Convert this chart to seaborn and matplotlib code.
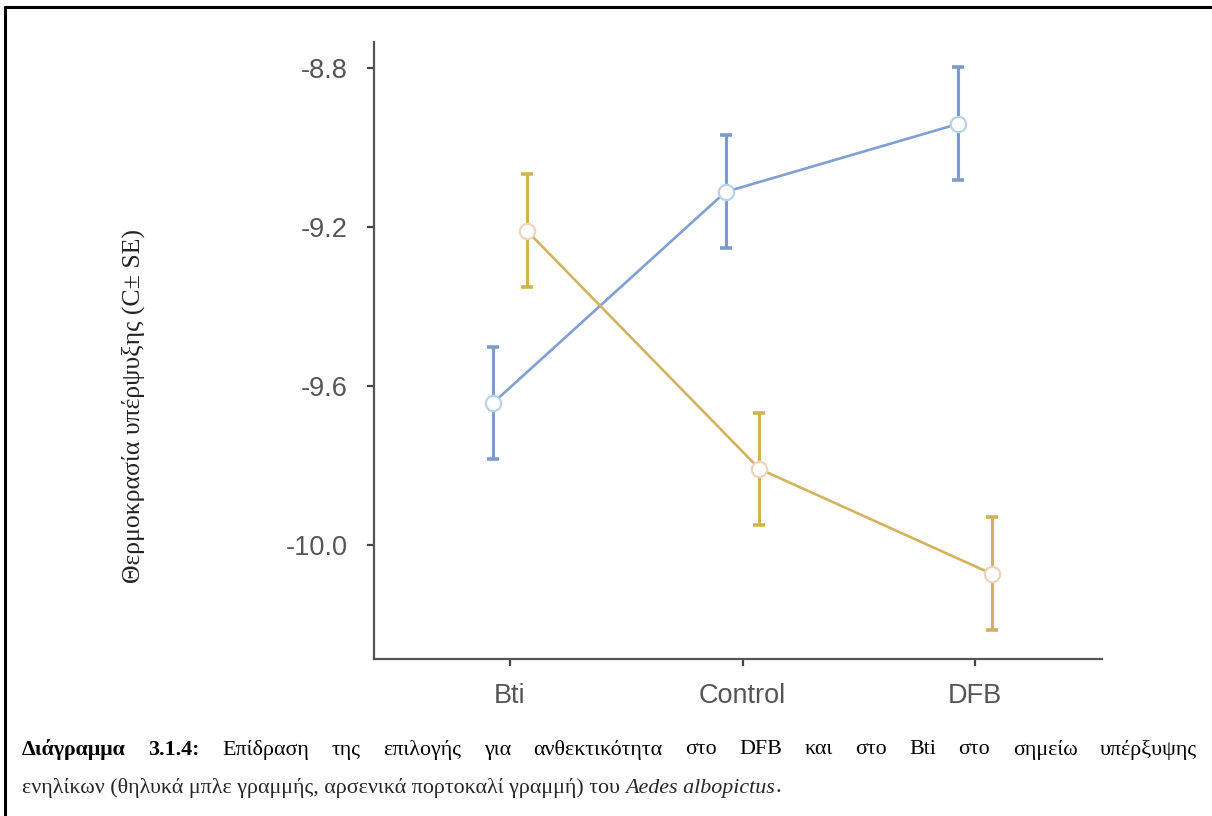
import matplotlib
matplotlib.use("Agg")
import matplotlib.pyplot as plt
from matplotlib.lines import Line2D
import seaborn as sns
import pandas as pd
import numpy as np

# values
groups = ["Bti", "Control", "DFB"]
female_mean = [-9.643, -9.112, -8.941]
female_se = [0.142, 0.142, 0.142]
male_mean = [-9.210, -9.809, -10.073]
male_se = [0.142, 0.142, 0.142]
yticks = [-8.8, -9.2, -9.6, -10.0]

ylabel = "Θερμοκρασία υπέρψυξης (C± SE)"
caption_bold = "Διάγραμμα 3.1.4:"
caption_line1 = "Επίδραση της επιλογής για ανθεκτικότητα στο DFB και στο Bti στο σημείω υπέρξυψης"
caption_line2 = "ενηλίκων (θηλυκά μπλε γραμμής, αρσενικά πορτοκαλί γραμμή) του "
caption_italic = "Aedes albopictus"

df = pd.DataFrame({
    "group": groups * 2,
    "sex": ["female"] * 3 + ["male"] * 3,
    "mean": female_mean + male_mean,
    "se": female_se + male_se,
})

line_colors = {"female": "#809fd2", "male": "#d5b25f"}
err_colors = {"female": "#7d9bcb", "male": "#d3b159"}
edge_colors = {"female": "#b9d2ec", "male": "#f0d3bd"}

sns.set_theme(style="ticks")
plt.rcParams["axes.unicode_minus"] = False
plt.rcParams["font.family"] = ["Liberation Sans", "DejaVu Sans"]

fig = plt.figure(figsize=(12.12, 8.16), dpi=100)
ax = fig.add_axes([0.3086, 0.1924, 0.6006, 0.7561])

sns.pointplot(
    data=df, x="group", y="mean", hue="sex", order=groups, hue_order=["female", "male"],
    palette=line_colors, dodge=0.146, errorbar=None, markers="o", linewidth=1.9,
    ax=ax, legend=False,
)

# restyle markers and add the SE bars at the dodged positions seaborn used
for line, sex in zip(ax.lines[:2], ["female", "male"]):
    line.set_markerfacecolor("white")
    line.set_markeredgecolor(edge_colors[sex])
    line.set_markersize(11)
    line.set_markeredgewidth(1.6)
    line.set_zorder(3)
    sub = df[df["sex"] == sex]
    ax.errorbar(
        line.get_xdata(), sub["mean"], yerr=sub["se"], fmt="none",
        ecolor=err_colors[sex], elinewidth=2.2, capsize=4.5, capthick=2.6, zorder=2,
    )

ax.set_xlim(-0.585, 2.546)
ax.set_ylim(-10.287, -8.735)
ax.set_yticks(yticks)
ax.set_yticklabels([f"{v:.1f}" for v in yticks])
ax.set_xlabel("")
ax.set_ylabel("")
sns.despine(ax=ax)
for side in ["left", "bottom"]:
    ax.spines[side].set_color("#555555")
    ax.spines[side].set_linewidth(1.6)
ax.tick_params(axis="both", colors="#444444", labelcolor="#555555", length=5,
               width=1.6, labelsize=19.5)
ax.tick_params(axis="y", pad=14)
ax.tick_params(axis="x", pad=12)

serif = ["Liberation Serif", "DejaVu Serif"]
fig.text(0.1097, 0.5025, ylabel, rotation=90, ha="center", va="center",
         fontsize=18.5, family=serif, color="#222222")

# page frame (top and left)
fig.add_artist(Line2D([0.0041, 0.0041], [0.0, 0.9914], transform=fig.transFigure,
                      color="black", lw=2.2))
fig.add_artist(Line2D([0.0041, 1.0], [0.9914, 0.9914], transform=fig.transFigure,
                      color="black", lw=2.2))

# caption, first line justified between x=22 and x=1197 px
renderer = fig.canvas.get_renderer()
W = fig.bbox.width
x0, x1 = 22 / W, 1197 / W
y1 = 1 - 750 / 816
y2 = 1 - 788 / 816
cap_size = 15.8

words = [(w, "bold") for w in caption_bold.split()] + [(w, "normal") for w in caption_line1.split()]
texts = []
for w, weight in words:
    t = fig.text(0, y1, w, fontsize=cap_size, family=serif, weight=weight,
                 va="center", ha="left", color="black")
    texts.append(t)
widths = [t.get_window_extent(renderer).width / W for t in texts]
gap = ((x1 - x0) - sum(widths)) / (len(texts) - 1)
x = x0
for t, wd in zip(texts, widths):
    t.set_x(x)
    x += wd + gap

t2 = fig.text(x0, y2, caption_line2, fontsize=cap_size, family=serif, va="center", ha="left")
xx = x0 + t2.get_window_extent(renderer).width / W
t3 = fig.text(xx, y2, caption_italic, fontsize=cap_size, family=serif, style="italic",
              va="center", ha="left")
xx += t3.get_window_extent(renderer).width / W
fig.text(xx, y2, ".", fontsize=cap_size, family=serif, va="center", ha="left")

fig.savefig("out.png", dpi=100)
plt.close(fig)
